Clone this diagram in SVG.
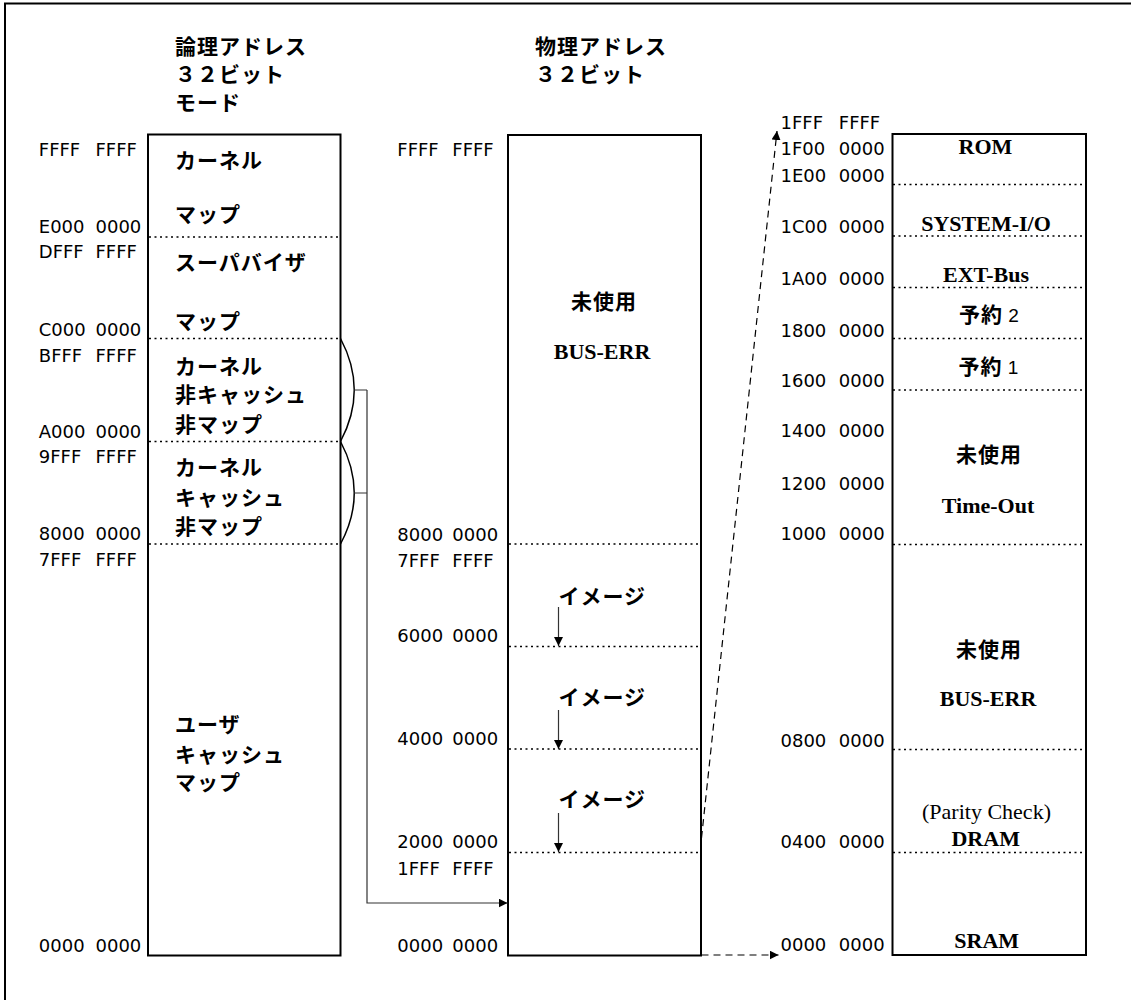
<svg xmlns="http://www.w3.org/2000/svg" width="1131" height="1000" viewBox="0 0 1131 1000">
<defs>
<style>
.frame{fill:none;stroke:#000;stroke-width:2}
.box{fill:#fff;stroke:#000;stroke-width:2}
.div{stroke:#000;stroke-width:1.5;stroke-dasharray:2 3.5;fill:none}
.addr{font-family:"DejaVu Sans",sans-serif;font-size:18px;fill:#000}
.jp{font-family:"Noto Sans CJK JP",sans-serif;font-weight:bold;font-size:21px;letter-spacing:1px;fill:#000}
.jpm{font-family:"Noto Sans CJK JP",sans-serif;font-weight:bold;font-size:21px;letter-spacing:1px;fill:#000;text-anchor:middle}
.en{font-family:"Liberation Serif",serif;font-weight:bold;font-size:22px;fill:#000;text-anchor:middle}
.enr{font-family:"Liberation Serif",serif;font-size:22px;fill:#000;text-anchor:middle}
.num{font-family:"Liberation Sans",sans-serif;font-weight:normal;font-size:19px;letter-spacing:0}
.brace{fill:none;stroke:#000;stroke-width:1.5}
.conn{fill:none;stroke:#333;stroke-width:1.2}
.dash{fill:none;stroke:#000;stroke-width:1.2;stroke-dasharray:7 5}
</style>
<marker id="ah" viewBox="0 0 9 9" refX="9" refY="4.5" markerWidth="9" markerHeight="9" markerUnits="userSpaceOnUse" orient="auto">
<path d="M0,0 L9,4.5 L0,9 z" fill="#000"/>
</marker>
</defs>
<rect class="frame" x="5" y="3.5" width="1140" height="1010"/>

<g id="logical-map">
<text class="jp" x="175" y="53.5">論理アドレス</text>
<text class="jp" x="175" y="82">３２ビット</text>
<text class="jp" x="175" y="110">モード</text>
<rect class="box" x="148" y="134.5" width="192.5" height="821"/>
<line class="div" x1="149" y1="237" x2="340" y2="237"/>
<line class="div" x1="149" y1="338.5" x2="340" y2="338.5"/>
<line class="div" x1="149" y1="441.5" x2="340" y2="441.5"/>
<line class="div" x1="149" y1="544" x2="340" y2="544"/>
<text class="addr" y="155.5"><tspan x="38.8">FFFF</tspan><tspan x="95.5">FFFF</tspan></text>
<text class="addr" y="233"><tspan x="38.8">E000</tspan><tspan x="95.5">0000</tspan></text>
<text class="addr" y="257.5"><tspan x="38.8">DFFF</tspan><tspan x="95.5">FFFF</tspan></text>
<text class="addr" y="336"><tspan x="38.8">C000</tspan><tspan x="95.5">0000</tspan></text>
<text class="addr" y="361.5"><tspan x="38.8">BFFF</tspan><tspan x="95.5">FFFF</tspan></text>
<text class="addr" y="438"><tspan x="38.8">A000</tspan><tspan x="95.5">0000</tspan></text>
<text class="addr" y="463"><tspan x="38.8">9FFF</tspan><tspan x="95.5">FFFF</tspan></text>
<text class="addr" y="540"><tspan x="38.8">8000</tspan><tspan x="95.5">0000</tspan></text>
<text class="addr" y="565.5"><tspan x="38.8">7FFF</tspan><tspan x="95.5">FFFF</tspan></text>
<text class="addr" y="951.5"><tspan x="38.8">0000</tspan><tspan x="95.5">0000</tspan></text>
<text class="jp" x="175" y="168">カーネル</text>
<text class="jp" x="175" y="221.5">マップ</text>
<text class="jp" x="175" y="270">スーパバイザ</text>
<text class="jp" x="175" y="328.5">マップ</text>
<text class="jp" x="175" y="373.5">カーネル</text>
<text class="jp" x="175" y="402">非キャッシュ</text>
<text class="jp" x="175" y="432">非マップ</text>
<text class="jp" x="175" y="475">カーネル</text>
<text class="jp" x="175" y="505">キャッシュ</text>
<text class="jp" x="175" y="533.5">非マップ</text>
<text class="jp" x="175" y="732">ユーザ</text>
<text class="jp" x="175" y="762">キャッシュ</text>
<text class="jp" x="175" y="790">マップ</text>
</g>

<g id="physical-map">
<text class="jp" x="535" y="53.5">物理アドレス</text>
<text class="jp" x="535" y="81.5">３２ビット</text>
<rect class="box" x="508" y="135" width="193" height="820.5"/>
<line class="div" x1="509" y1="544" x2="700" y2="544"/>
<line class="div" x1="509" y1="646.5" x2="700" y2="646.5"/>
<line class="div" x1="509" y1="749" x2="700" y2="749"/>
<line class="div" x1="509" y1="852.5" x2="700" y2="852.5"/>
<text class="addr" y="155.5"><tspan x="397.3">FFFF</tspan><tspan x="452.3">FFFF</tspan></text>
<text class="addr" y="540.5"><tspan x="397.3">8000</tspan><tspan x="452.3">0000</tspan></text>
<text class="addr" y="566.5"><tspan x="397.3">7FFF</tspan><tspan x="452.3">FFFF</tspan></text>
<text class="addr" y="641.5"><tspan x="397.3">6000</tspan><tspan x="452.3">0000</tspan></text>
<text class="addr" y="745"><tspan x="397.3">4000</tspan><tspan x="452.3">0000</tspan></text>
<text class="addr" y="848"><tspan x="397.3">2000</tspan><tspan x="452.3">0000</tspan></text>
<text class="addr" y="875"><tspan x="397.3">1FFF</tspan><tspan x="452.3">FFFF</tspan></text>
<text class="addr" y="951.5"><tspan x="397.3">0000</tspan><tspan x="452.3">0000</tspan></text>
<text class="jpm" x="604" y="308.5">未使用</text>
<text class="en" x="602" y="359">BUS-ERR</text>
<text class="jp" x="558.5" y="603.5">イメージ</text>
<text class="jp" x="558.5" y="705">イメージ</text>
<text class="jp" x="558.5" y="807">イメージ</text>
</g>

<g id="device-map">
<rect class="box" x="892.5" y="134" width="193.5" height="821"/>
<line class="div" x1="893" y1="184.5" x2="1085" y2="184.5"/>
<line class="div" x1="893" y1="236" x2="1085" y2="236"/>
<line class="div" x1="893" y1="287.5" x2="1085" y2="287.5"/>
<line class="div" x1="893" y1="338.5" x2="1085" y2="338.5"/>
<line class="div" x1="893" y1="390" x2="1085" y2="390"/>
<line class="div" x1="893" y1="544.5" x2="1085" y2="544.5"/>
<line class="div" x1="893" y1="749.5" x2="1085" y2="749.5"/>
<line class="div" x1="893" y1="852.5" x2="1085" y2="852.5"/>
<text class="addr" y="128.5"><tspan x="780.5">1FFF</tspan><tspan x="838.8">FFFF</tspan></text>
<text class="addr" y="155"><tspan x="780.5">1F00</tspan><tspan x="838.8">0000</tspan></text>
<text class="addr" y="181.5"><tspan x="780.5">1E00</tspan><tspan x="838.8">0000</tspan></text>
<text class="addr" y="233.3"><tspan x="780.5">1C00</tspan><tspan x="838.8">0000</tspan></text>
<text class="addr" y="285"><tspan x="780.5">1A00</tspan><tspan x="838.8">0000</tspan></text>
<text class="addr" y="336.7"><tspan x="780.5">1800</tspan><tspan x="838.8">0000</tspan></text>
<text class="addr" y="387.3"><tspan x="780.5">1600</tspan><tspan x="838.8">0000</tspan></text>
<text class="addr" y="437.3"><tspan x="780.5">1400</tspan><tspan x="838.8">0000</tspan></text>
<text class="addr" y="490"><tspan x="780.5">1200</tspan><tspan x="838.8">0000</tspan></text>
<text class="addr" y="540"><tspan x="780.5">1000</tspan><tspan x="838.8">0000</tspan></text>
<text class="addr" y="746.7"><tspan x="780.5">0800</tspan><tspan x="838.8">0000</tspan></text>
<text class="addr" y="848.3"><tspan x="780.5">0400</tspan><tspan x="838.8">0000</tspan></text>
<text class="addr" y="950.7"><tspan x="780.5">0000</tspan><tspan x="838.8">0000</tspan></text>
<text class="en" x="985.5" y="154">ROM</text>
<text class="en" x="986" y="230.7">SYSTEM-I/O</text>
<text class="en" x="986" y="281.7">EXT-Bus</text>
<text class="jpm" x="989" y="321.5">予約<tspan class="num"> 2</tspan></text>
<text class="jpm" x="988.5" y="373.5">予約<tspan class="num"> 1</tspan></text>
<text class="jpm" x="989" y="462">未使用</text>
<text class="en" x="988" y="512.7">Time-Out</text>
<text class="jpm" x="989" y="657">未使用</text>
<text class="en" x="988" y="706">BUS-ERR</text>
<text class="enr" x="986.5" y="819">(Parity Check)</text>
<text class="en" x="985.7" y="845.7">DRAM</text>
<text class="en" x="986.7" y="948.3">SRAM</text>
</g>

<g id="connectors">
<path class="brace" d="M340.5,338.5 Q368,390 340.5,441.5"/>
<path class="brace" d="M340.5,441.5 Q368,493 340.5,544"/>
<path class="conn" d="M354,390 H367 M354,493 H367"/>
<path class="conn" d="M367,390 V903 H507.5" marker-end="url(#ah)"/>
<path class="conn" d="M558.5,607 V646" marker-end="url(#ah)"/>
<path class="conn" d="M558.5,710 V749" marker-end="url(#ah)"/>
<path class="conn" d="M558.5,813 V852" marker-end="url(#ah)"/>
<path class="dash" d="M701.5,838 L777,131" marker-end="url(#ah)"/>
<path class="dash" d="M701.5,955 H778.5" marker-end="url(#ah)"/>
</g>
</svg>
